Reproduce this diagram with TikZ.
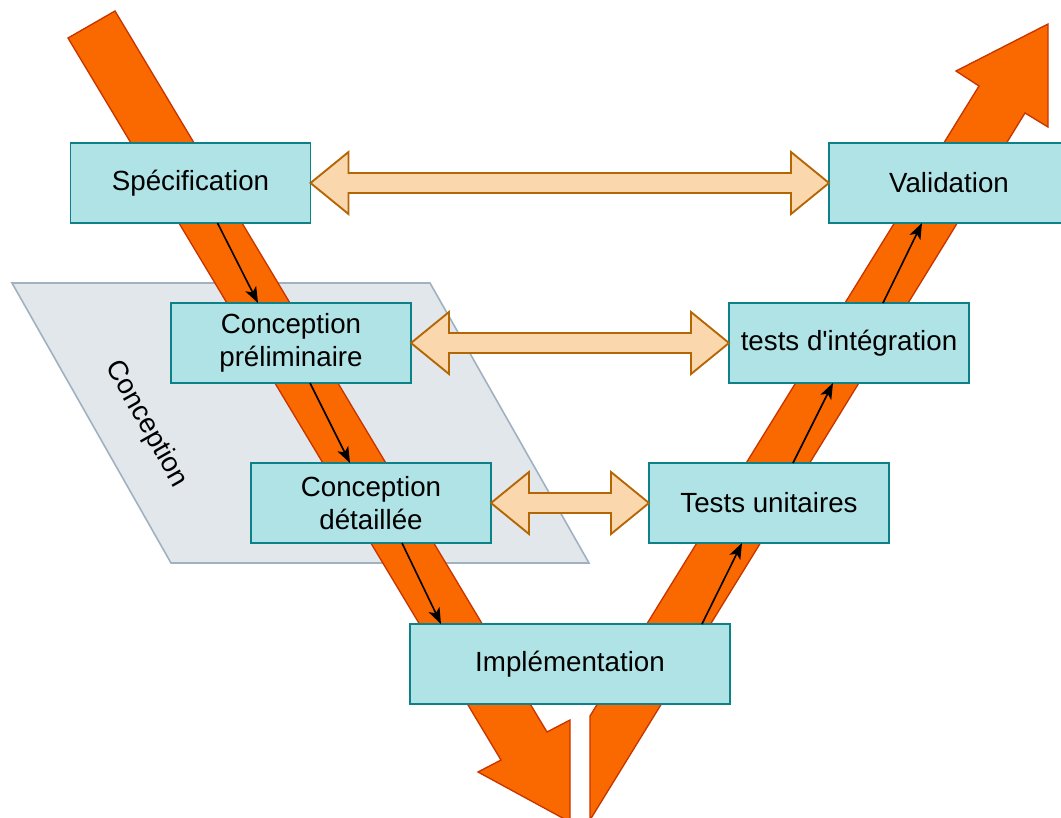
\documentclass[tikz,border=0pt]{standalone}
\usepackage{fontspec}
\setmainfont{Liberation Sans}
\usetikzlibrary{calc,arrows.meta}
\definecolor{boxfill}{HTML}{B0E3E6}
\definecolor{boxline}{HTML}{0E8088}
\definecolor{orfill}{HTML}{FA6800}
\definecolor{orline}{HTML}{C73500}
\definecolor{dafill}{HTML}{FAD7AC}
\definecolor{daline}{HTML}{B46504}
\definecolor{pgfill}{HTML}{E2E7EC}
\definecolor{pgline}{HTML}{A0B1C1}
\newcommand\dblarr[2]{%
  \draw[dbl] (#1) -- ++(38,-31) -- ++(0,21) -- ($(#2)+(-38,-10)$) -- ++(0,-21) -- (#2)
    -- ++(-38,31) -- ++(0,-21) -- ($(#1)+(38,10)$) -- ++(0,21) -- cycle;}
\begin{document}
\begin{tikzpicture}[x=0.75pt,y=-0.75pt,
  stage/.style={draw=boxline,fill=boxfill,line width=1.4pt,minimum width=180pt,minimum height=60pt,
    inner sep=0pt,outer sep=0pt,align=center,font=\fontsize{20.8}{24.3}\selectfont},
  bigarrow/.style={draw=orline,fill=orfill,line width=1pt,line join=miter},
  dbl/.style={draw=daline,fill=dafill,line width=1.4pt,line join=miter},
  conn/.style={draw=black,line width=1.2pt,-{Stealth[length=12pt,width=9pt,inset=3pt]}}]
\useasboundingbox (0,0) rectangle (1061,818);
% grey parallelogram
\draw[fill=pgfill,draw=pgline,line width=1.2pt] (12,283) -- (430,283) -- (589,563) -- (171,563) -- cycle;
\node[rotate=-60.4,font=\fontsize{20.8}{24.3}\selectfont] (concl) at (146,424) {Conception};
% big orange arrows
\draw[bigarrow] (68,38) -- (115,11) -- (547,732) -- (570,720) -- (570,822) -- (478,772) -- (501,760) -- cycle;
\draw[bigarrow] (590,716) -- (979,86) -- (956,71) -- (1048,24) -- (1048,127) -- (1025,113) -- (590,820) -- cycle;
% stages
\node[stage] (spec) at (190.5,183) {Spécification};
\node[stage] (val) at (949,183) {Validation};
\node[stage] (prel) at (291,343) {Conception\\préliminaire};
\node[stage] (integ) at (849,343) {tests d\textquotesingle intégration};
\node[stage] (det) at (371,503) {Conception\\détaillée};
\node[stage] (unit) at (769,503) {Tests unitaires};
\node[stage,minimum width=240pt] (impl) at (570,664) {Implémentation};
% double arrows
\dblarr{spec.east}{val.west}
\dblarr{prel.east}{integ.west}
\dblarr{det.east}{unit.west}
% connectors
\draw[conn] ($(spec.south west)+(147,0)$) -- ($(prel.north west)+(87,0)$);
\draw[conn] ($(prel.south west)+(139,0)$) -- ($(det.north west)+(99,0)$);
\draw[conn] ($(det.south west)+(151,0)$) -- ($(impl.north west)+(31,0)$);
\draw[conn] ($(impl.north west)+(292,0)$) -- ($(unit.south west)+(93,0)$);
\draw[conn] ($(unit.north west)+(144,0)$) -- ($(integ.south west)+(104,0)$);
\draw[conn] ($(integ.north west)+(154,0)$) -- ($(val.south west)+(93,0)$);
\end{tikzpicture}
\end{document}
